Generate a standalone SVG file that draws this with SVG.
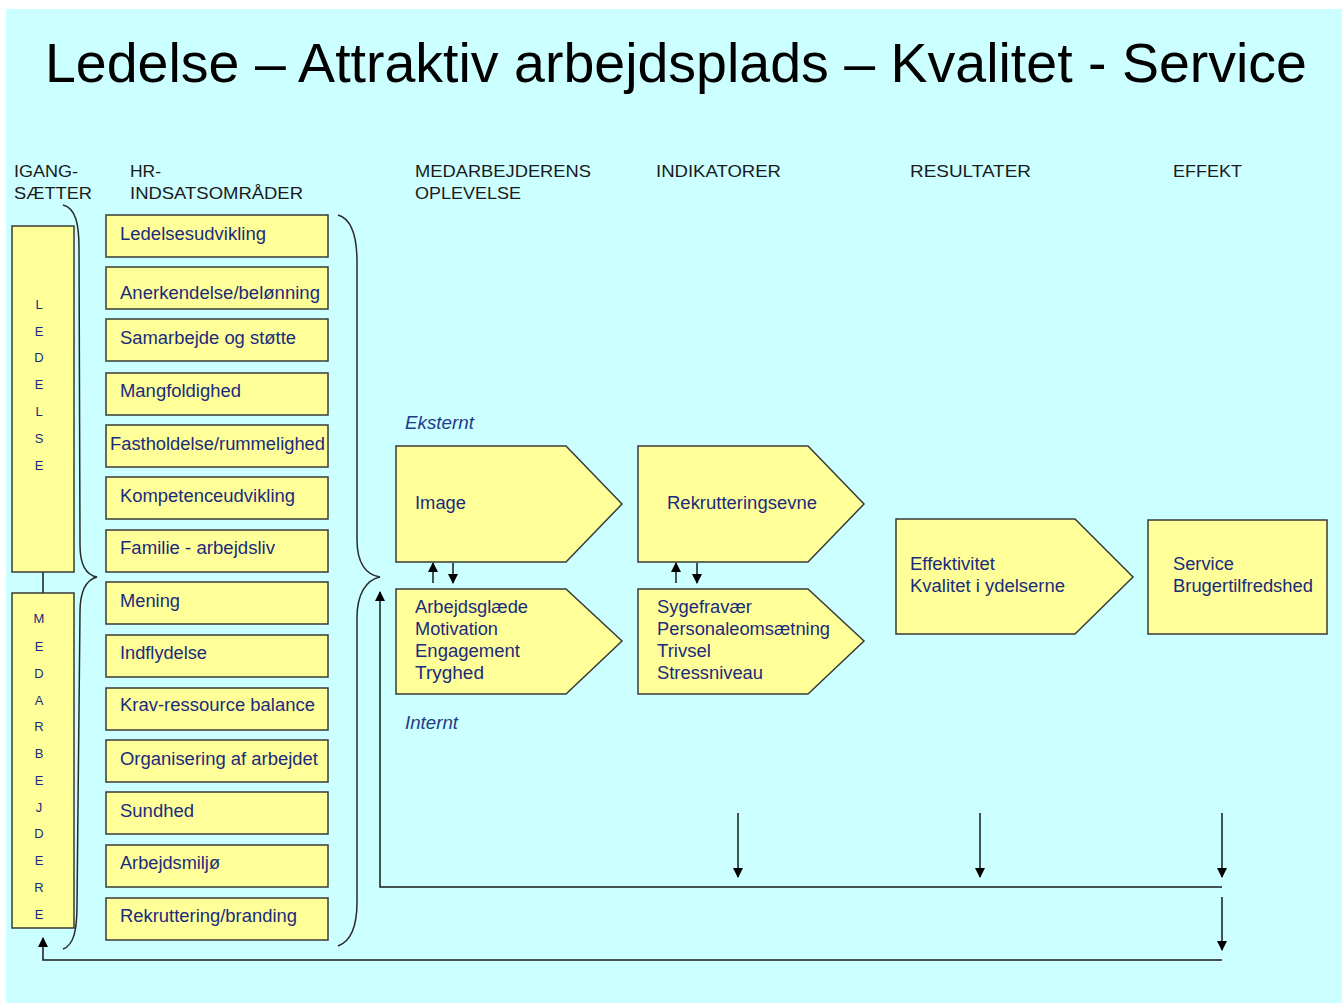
<svg xmlns="http://www.w3.org/2000/svg" width="1342" height="1003" viewBox="0 0 1342 1003">
<style>
.bg{fill:#CCFFFF}
.box{fill:#FFFF99;stroke:#3a3a3a;stroke-width:1.5}
.t{font-family:"Liberation Sans",Arial,sans-serif;font-size:17.5px;fill:#1a2b7c}
.h{font-family:"Liberation Sans",Arial,sans-serif;font-size:16.5px;fill:#1a1a1a}
.v{font-family:"Liberation Sans",Arial,sans-serif;font-size:13px;fill:#1a2b7c;text-anchor:middle}
.it{font-family:"Liberation Sans",Arial,sans-serif;font-size:17.5px;font-style:italic;fill:#1f3c88}
.ln{fill:none;stroke:#1a1a1a;stroke-width:1.5}
.br{fill:none;stroke:#2a2a2a;stroke-width:1.5}
</style>
<defs>
<marker id="ah" markerWidth="10" markerHeight="10" refX="9" refY="5" orient="auto" markerUnits="userSpaceOnUse">
<path d="M0,0 L10,5 L0,10 Z" fill="#000"/>
</marker>
</defs>
<rect x="0" y="0" width="1342" height="1003" fill="#fff"/>
<rect class="bg" x="6" y="9" width="1336" height="994"/>
<text x="45" y="82" font-family="'Liberation Sans',Arial,sans-serif" font-size="56" fill="#000" textLength="1262" lengthAdjust="spacingAndGlyphs">Ledelse – Attraktiv arbejdsplads – Kvalitet - Service</text>

<g id="headers">
<text class="h" x="14" y="177" textLength="64" lengthAdjust="spacingAndGlyphs">IGANG-</text>
<text class="h" x="14" y="199" textLength="78" lengthAdjust="spacingAndGlyphs">SÆTTER</text>
<text class="h" x="130" y="177" textLength="31" lengthAdjust="spacingAndGlyphs">HR-</text>
<text class="h" x="130" y="199" textLength="173" lengthAdjust="spacingAndGlyphs">INDSATSOMRÅDER</text>
<text class="h" x="415" y="177" textLength="176" lengthAdjust="spacingAndGlyphs">MEDARBEJDERENS</text>
<text class="h" x="415" y="199" textLength="106" lengthAdjust="spacingAndGlyphs">OPLEVELSE</text>
<text class="h" x="656" y="177" textLength="125" lengthAdjust="spacingAndGlyphs">INDIKATORER</text>
<text class="h" x="910" y="177" textLength="121" lengthAdjust="spacingAndGlyphs">RESULTATER</text>
<text class="h" x="1173" y="177" textLength="69" lengthAdjust="spacingAndGlyphs">EFFEKT</text>
</g>

<g id="connectors">
<line class="ln" x1="43" y1="572" x2="43" y2="593"/>
<path class="br" d="M63,205 C76,208 79,225 79,248 L80,545 C80,565 86,575 97,577 C86,580 80,592 80,612 L77,905 C77,930 74,945 63,949"/>
<path class="br" d="M338,215 C352,219 357,238 357,262 L357,540 C357,563 366,575 380,577 C366,580 357,594 357,618 L357,902 C357,925 352,941 338,946"/>
<line class="ln" x1="433" y1="583" x2="433" y2="563" marker-end="url(#ah)"/>
<line class="ln" x1="453" y1="563" x2="453" y2="583" marker-end="url(#ah)"/>
<line class="ln" x1="676" y1="583" x2="676" y2="563" marker-end="url(#ah)"/>
<line class="ln" x1="697" y1="563" x2="697" y2="583" marker-end="url(#ah)"/>
<line class="ln" x1="738" y1="813" x2="738" y2="877" marker-end="url(#ah)"/>
<line class="ln" x1="980" y1="813" x2="980" y2="877" marker-end="url(#ah)"/>
<line class="ln" x1="1222" y1="813" x2="1222" y2="877" marker-end="url(#ah)"/>
<line class="ln" x1="1222" y1="897" x2="1222" y2="950" marker-end="url(#ah)"/>
<polyline class="ln" points="1222,887 380,887 380,592" marker-end="url(#ah)"/>
<polyline class="ln" points="1222,960 43,960 43,938" marker-end="url(#ah)"/>
</g>

<g id="node-ledelse">
<rect class="box" x="12" y="226" width="62" height="346"/>
<text class="v" x="39" y="309">L</text>
<text class="v" x="39" y="336">E</text>
<text class="v" x="39" y="362">D</text>
<text class="v" x="39" y="389">E</text>
<text class="v" x="39" y="416">L</text>
<text class="v" x="39" y="443">S</text>
<text class="v" x="39" y="470">E</text>
</g>
<g id="node-medarbejdere">
<rect class="box" x="12" y="593" width="62" height="335"/>
<text class="v" x="39" y="623">M</text>
<text class="v" x="39" y="651">E</text>
<text class="v" x="39" y="678">D</text>
<text class="v" x="39" y="705">A</text>
<text class="v" x="39" y="731">R</text>
<text class="v" x="39" y="758">B</text>
<text class="v" x="39" y="785">E</text>
<text class="v" x="39" y="812">J</text>
<text class="v" x="39" y="838">D</text>
<text class="v" x="39" y="865">E</text>
<text class="v" x="39" y="892">R</text>
<text class="v" x="39" y="919">E</text>
</g>

<g id="hr-1"><rect class="box" x="106" y="215" width="222" height="42"/><text class="t" x="120" y="240" textLength="146" lengthAdjust="spacingAndGlyphs">Ledelsesudvikling</text></g>
<g id="hr-2"><rect class="box" x="106" y="267" width="222" height="42"/><text class="t" x="120" y="299" textLength="200" lengthAdjust="spacingAndGlyphs">Anerkendelse/belønning</text></g>
<g id="hr-3"><rect class="box" x="106" y="319" width="222" height="42"/><text class="t" x="120" y="344" textLength="176" lengthAdjust="spacingAndGlyphs">Samarbejde og støtte</text></g>
<g id="hr-4"><rect class="box" x="106" y="373" width="222" height="42"/><text class="t" x="120" y="397" textLength="121" lengthAdjust="spacingAndGlyphs">Mangfoldighed</text></g>
<g id="hr-5"><rect class="box" x="106" y="425" width="222" height="42"/><text class="t" x="110" y="450" textLength="215" lengthAdjust="spacingAndGlyphs">Fastholdelse/rummelighed</text></g>
<g id="hr-6"><rect class="box" x="106" y="477" width="222" height="42"/><text class="t" x="120" y="502" textLength="175" lengthAdjust="spacingAndGlyphs">Kompetenceudvikling</text></g>
<g id="hr-7"><rect class="box" x="106" y="530" width="222" height="42"/><text class="t" x="120" y="554" textLength="155" lengthAdjust="spacingAndGlyphs">Familie - arbejdsliv</text></g>
<g id="hr-8"><rect class="box" x="106" y="582" width="222" height="42"/><text class="t" x="120" y="607" textLength="60" lengthAdjust="spacingAndGlyphs">Mening</text></g>
<g id="hr-9"><rect class="box" x="106" y="635" width="222" height="42"/><text class="t" x="120" y="659" textLength="87" lengthAdjust="spacingAndGlyphs">Indflydelse</text></g>
<g id="hr-10"><rect class="box" x="106" y="688" width="222" height="42"/><text class="t" x="120" y="711" textLength="195" lengthAdjust="spacingAndGlyphs">Krav-ressource balance</text></g>
<g id="hr-11"><rect class="box" x="106" y="740" width="222" height="42"/><text class="t" x="120" y="765" textLength="198" lengthAdjust="spacingAndGlyphs">Organisering af arbejdet</text></g>
<g id="hr-12"><rect class="box" x="106" y="792" width="222" height="42"/><text class="t" x="120" y="817" textLength="74" lengthAdjust="spacingAndGlyphs">Sundhed</text></g>
<g id="hr-13"><rect class="box" x="106" y="845" width="222" height="42"/><text class="t" x="120" y="869" textLength="100" lengthAdjust="spacingAndGlyphs">Arbejdsmiljø</text></g>
<g id="hr-14"><rect class="box" x="106" y="898" width="222" height="42"/><text class="t" x="120" y="922" textLength="177" lengthAdjust="spacingAndGlyphs">Rekruttering/branding</text></g>

<g id="label-eksternt"><text class="it" x="405" y="429" textLength="69" lengthAdjust="spacingAndGlyphs">Eksternt</text></g>
<g id="label-internt"><text class="it" x="405" y="729" textLength="53" lengthAdjust="spacingAndGlyphs">Internt</text></g>

<g id="node-image">
<polygon class="box" points="396,446 566,446 622,504 566,562 396,562"/>
<text class="t" x="415" y="509" textLength="51" lengthAdjust="spacingAndGlyphs">Image</text>
</g>
<g id="node-oplevelse">
<polygon class="box" points="396,589 566,589 622,641 566,694 396,694"/>
<text class="t" x="415" y="613" textLength="113" lengthAdjust="spacingAndGlyphs">Arbejdsglæde</text>
<text class="t" x="415" y="635" textLength="83" lengthAdjust="spacingAndGlyphs">Motivation</text>
<text class="t" x="415" y="657" textLength="105" lengthAdjust="spacingAndGlyphs">Engagement</text>
<text class="t" x="415" y="679" textLength="69" lengthAdjust="spacingAndGlyphs">Tryghed</text>
</g>
<g id="node-rekrutteringsevne">
<polygon class="box" points="638,446 808,446 864,504 808,562 638,562"/>
<text class="t" x="667" y="509" textLength="150" lengthAdjust="spacingAndGlyphs">Rekrutteringsevne</text>
</g>
<g id="node-indikatorer">
<polygon class="box" points="638,589 808,589 864,641 808,694 638,694"/>
<text class="t" x="657" y="613" textLength="95" lengthAdjust="spacingAndGlyphs">Sygefravær</text>
<text class="t" x="657" y="635" textLength="173" lengthAdjust="spacingAndGlyphs">Personaleomsætning</text>
<text class="t" x="657" y="657" textLength="54" lengthAdjust="spacingAndGlyphs">Trivsel</text>
<text class="t" x="657" y="679" textLength="106" lengthAdjust="spacingAndGlyphs">Stressniveau</text>
</g>
<g id="node-resultater">
<polygon class="box" points="896,519 1075,519 1133,577 1075,634 896,634"/>
<text class="t" x="910" y="570" textLength="85" lengthAdjust="spacingAndGlyphs">Effektivitet</text>
<text class="t" x="910" y="592" textLength="155" lengthAdjust="spacingAndGlyphs">Kvalitet i ydelserne</text>
</g>
<g id="node-effekt">
<rect class="box" x="1148" y="520" width="179" height="114"/>
<text class="t" x="1173" y="570" textLength="61" lengthAdjust="spacingAndGlyphs">Service</text>
<text class="t" x="1173" y="592" textLength="140" lengthAdjust="spacingAndGlyphs">Brugertilfredshed</text>
</g>
</svg>
